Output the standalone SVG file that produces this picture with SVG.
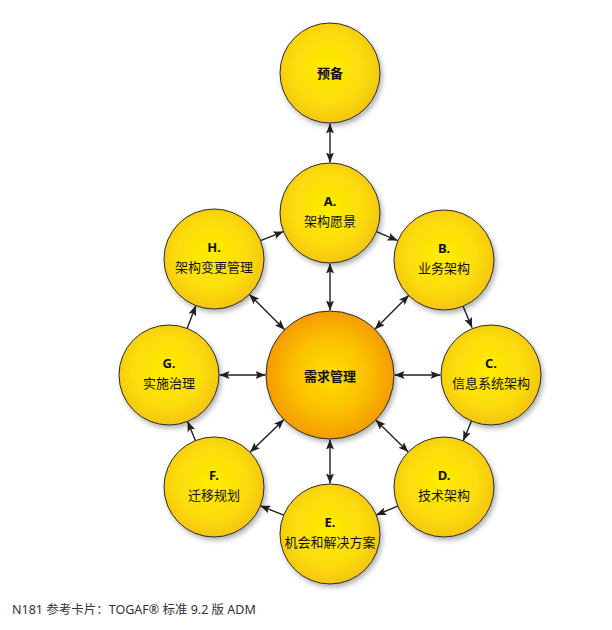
<svg xmlns="http://www.w3.org/2000/svg" width="612" height="630" viewBox="0 0 612 630">
<defs>
<radialGradient id="gy" cx="0.48" cy="0.46" r="0.55">
<stop offset="0" stop-color="#FFEC00"/>
<stop offset="0.65" stop-color="#FCDC0A"/>
<stop offset="1" stop-color="#F3C414"/>
</radialGradient>
<radialGradient id="go" cx="0.5" cy="0.5" r="0.55">
<stop offset="0" stop-color="#FFE000"/>
<stop offset="0.55" stop-color="#FBBE05"/>
<stop offset="1" stop-color="#F29300"/>
</radialGradient>
<filter id="sh" x="-20%" y="-20%" width="150%" height="150%">
<feDropShadow dx="2" dy="3" stdDeviation="2.5" flood-color="#000" flood-opacity="0.3"/>
</filter>
<marker id="ah" viewBox="0 0 10 8" refX="10" refY="4" markerWidth="10" markerHeight="8" markerUnits="userSpaceOnUse" orient="auto-start-reverse">
<path d="M0,0 L10,4 L0,8 L2,4 z" fill="#231F20"/>
</marker>
</defs>
<style>
.n{fill:url(#gy);stroke:#2b2b2b;stroke-width:1;filter:url(#sh)}
.m{fill:url(#go);stroke:#2b2b2b;stroke-width:1;filter:url(#sh)}
.t{font-family:"Noto Sans","Noto Sans CJK SC",sans-serif;font-size:13px;fill:#111;text-anchor:middle}
.b{font-weight:bold}
.c line{stroke:#231F20;stroke-width:1.4}
.one{marker-end:url(#ah)}
.two{marker-start:url(#ah);marker-end:url(#ah)}
.cap{font-family:"Noto Sans","Noto Sans CJK SC",sans-serif;font-size:12.5px;fill:#333}
</style>
<g id="connectors" class="c">
<line class="two" x1="330" y1="123.5" x2="330" y2="162.5"/>
<line class="two" x1="330" y1="263.5" x2="330" y2="310.5"/>
<line class="two" x1="330" y1="439.5" x2="330" y2="483.5"/>
<line class="two" x1="394.5" y1="375" x2="440.5" y2="375"/>
<line class="two" x1="219.5" y1="375" x2="265.5" y2="375"/>
<line class="two" x1="374.9" y1="329.3" x2="408.9" y2="295.2"/>
<line class="two" x1="375.7" y1="419.9" x2="408.3" y2="452"/>
<line class="two" x1="284" y1="419.5" x2="250" y2="452.3"/>
<line class="two" x1="284.7" y1="329.7" x2="249.4" y2="294.4"/>
<line class="one" x1="376.4" y1="231.7" x2="397.6" y2="240.6"/>
<line class="one" x1="462.9" y1="305.8" x2="472.1" y2="327.7"/>
<line class="one" x1="471.8" y1="420.2" x2="463.2" y2="440.8"/>
<line class="one" x1="397.8" y1="506.1" x2="376.2" y2="515"/>
<line class="one" x1="283.7" y1="515.2" x2="260.3" y2="505.8"/>
<line class="one" x1="195.4" y1="440.6" x2="187.6" y2="421.4"/>
<line class="one" x1="187.1" y1="328.4" x2="195.9" y2="305.6"/>
<line class="one" x1="260.5" y1="240.6" x2="283.5" y2="231.6"/>
</g>
<g id="node-prelim"><circle class="n" cx="330" cy="73" r="50"/><text class="t b" x="330" y="77.5">预备</text></g>
<g id="node-a"><circle class="n" cx="330" cy="213" r="50"/><text class="t b" x="330" y="206">A.</text><text class="t" x="330" y="226">架构愿景</text></g>
<g id="node-b"><circle class="n" cx="444" cy="260" r="50"/><text class="t b" x="444" y="253">B.</text><text class="t" x="444" y="273">业务架构</text></g>
<g id="node-c"><circle class="n" cx="491" cy="375" r="50"/><text class="t b" x="491" y="368">C.</text><text class="t" x="491" y="388">信息系统架构</text></g>
<g id="node-d"><circle class="n" cx="444" cy="487" r="50"/><text class="t b" x="444" y="480">D.</text><text class="t" x="444" y="500">技术架构</text></g>
<g id="node-e"><circle class="n" cx="330" cy="534" r="50"/><text class="t b" x="330" y="527">E.</text><text class="t" x="330" y="547">机会和解决方案</text></g>
<g id="node-f"><circle class="n" cx="214" cy="487" r="50"/><text class="t b" x="214" y="480">F.</text><text class="t" x="214" y="500">迁移规划</text></g>
<g id="node-g"><circle class="n" cx="169" cy="375" r="50"/><text class="t b" x="169" y="368">G.</text><text class="t" x="169" y="388">实施治理</text></g>
<g id="node-h"><circle class="n" cx="214" cy="259" r="50"/><text class="t b" x="214" y="252">H.</text><text class="t" x="214" y="272">架构变更管理</text></g>
<g id="node-center"><circle class="m" cx="330" cy="375" r="64"/><text class="t b" x="330" y="381">需求管理</text></g>
<text class="cap" x="12" y="614">N181 参考卡片：TOGAF® 标准 9.2 版 ADM</text>
</svg>
